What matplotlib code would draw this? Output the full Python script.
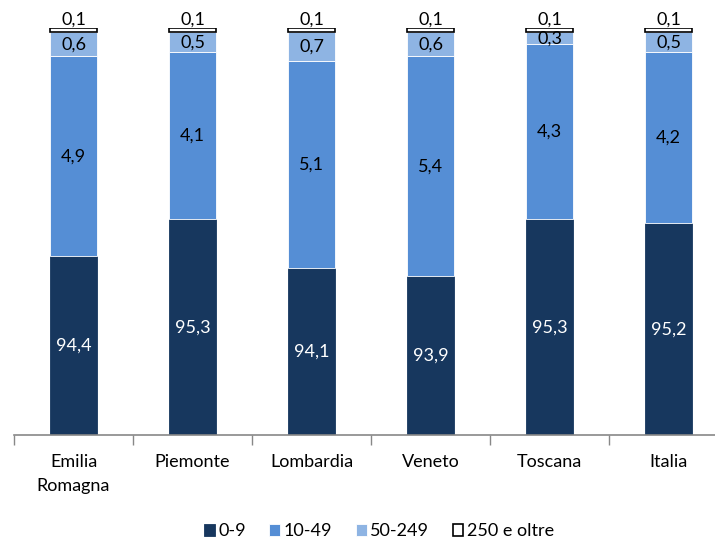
import matplotlib.pyplot as plt
import numpy as np

regioni = ["Emilia\nRomagna", "Piemonte", "Lombardia", "Veneto", "Toscana", "Italia"]
classi = ["0-9", "10-49", "50-249", "250 e oltre"]
v_0_9 = [94.4, 95.3, 94.1, 93.9, 95.3, 95.2]
v_10_49 = [4.9, 4.1, 5.1, 5.4, 4.3, 4.2]
v_50_249 = [0.6, 0.5, 0.7, 0.6, 0.3, 0.5]
v_250 = [0.1, 0.1, 0.1, 0.1, 0.1, 0.1]

colori = ["#17375E", "#558ED5", "#8EB4E3", "#FFFFFF"]
bordi = ["#17375E", "#FFFFFF", "#FFFFFF", "#000000"]
col_testo = ["white", "black", "black", "black"]

plt.rcParams['font.family'] = ['Lato', 'DejaVu Sans']

fig = plt.figure(figsize=(7.15, 5.42), dpi=100)
ax = fig.add_axes([14 / 715, 1 - 435 / 542, 714 / 715, (435 - 28) / 542])

x = np.arange(len(regioni))
ymin, ymax = 90, 100
base = np.zeros(len(regioni))
serie = [v_0_9, v_10_49, v_50_249, v_250]
for i, vals in enumerate(serie):
    vals = np.array(vals)
    ax.bar(x, vals, 0.4, bottom=base, color=colori[i], edgecolor=bordi[i],
           linewidth=1.2 if i == 3 else 0.6, label=classi[i], zorder=2)
    for j in range(len(x)):
        lo = max(base[j], ymin)
        hi = base[j] + vals[j]
        yc = (lo + hi) / 2
        if i == 3:
            yc = hi + 0.2
        testo = f"{vals[j]:.1f}".replace(".", ",")
        ax.text(x[j], yc, testo, ha="center", va="center", fontsize=13,
                color=col_testo[i], zorder=3, clip_on=False)
    base = base + vals

ax.set_xlim(-0.5, 5.5)
ax.set_ylim(ymin, ymax)
ax.set_yticks([])
ax.set_xticks(x)
ax.set_xticklabels(regioni, fontsize=13, linespacing=1.6)
ax.set_xticks(np.arange(-0.5, 6, 1), minor=True)
ax.tick_params(axis="x", which="major", length=0, pad=14)
ax.tick_params(axis="x", which="minor", length=7, color="#888888", width=1)
for s in ["top", "right", "left"]:
    ax.spines[s].set_visible(False)
ax.spines["bottom"].set_color("#888888")
ax.spines["bottom"].set_linewidth(1.2)

fig.legend(loc="lower center", bbox_to_anchor=(0.53, -0.025), ncol=4, frameon=False,
           fontsize=13, handlelength=0.6, handleheight=0.6, handletextpad=0.2,
           columnspacing=1.3)

fig.savefig("out.png", dpi=100)
